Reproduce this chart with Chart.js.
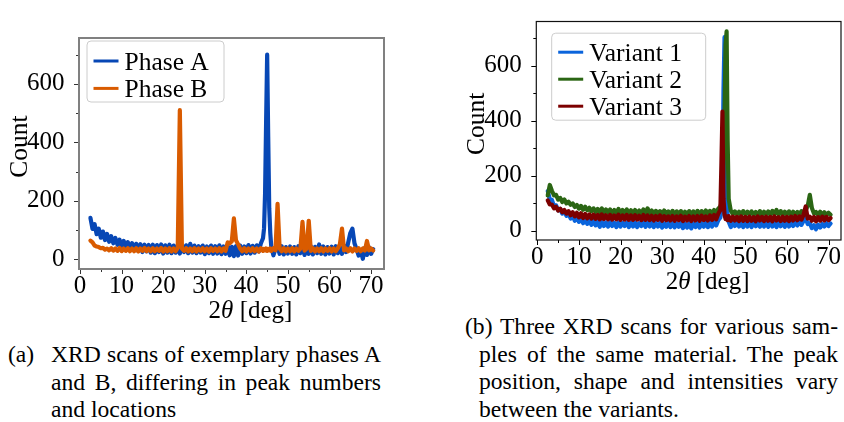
<!DOCTYPE html>
<html>
<head>
<meta charset="utf-8">
<script src="https://cdn.jsdelivr.net/npm/chart.js@4.4.1/dist/chart.umd.min.js"></script>
<style>
  body { margin: 0; background: #fff; width: 844px; height: 422px; overflow: hidden; position: relative;
         font-family: 'Liberation Serif', 'Times New Roman', serif; color: #000; }
  #chartA { position: absolute; left: 0; top: 0; }
  #chartB { position: absolute; left: 424px; top: 0; }
  .cap { position: absolute; font-size: 23.6px; line-height: 27.5px; white-space: nowrap; }
  .cap div { white-space: nowrap; }
  .cap .full { text-align: justify; text-align-last: justify; }
</style>
</head>
<body>
<canvas id="chartA" width="420" height="330"></canvas>
<canvas id="chartB" width="420" height="300"></canvas>

<div class="cap" style="left:8px; top:341px;">(a)</div>
<div class="cap" style="left:51px; top:341px; width:330px;">
  <div class="full">XRD scans of exemplary phases A</div>
  <div class="full">and B, differing in peak numbers</div>
  <div>and locations</div>
</div>

<div class="cap" style="left:465px; top:313px; width:373px;">
  <div class="full">(b) Three XRD scans for various sam-</div>
</div>
<div class="cap" style="left:479px; top:340.5px; width:359px;">
  <div class="full">ples of the same material. The peak</div>
  <div class="full">position, shape and intensities vary</div>
  <div>between the variants.</div>
</div>

<script>
// 2theta sampling (deg), shared by every scan
const twoTheta = [2.5,3,3.5,4,4.5,5,5.5,6,6.5,7,
  7.5,8,8.5,9,9.5,10,10.5,11,11.5,12,
  12.5,13,13.5,14,14.5,15,15.5,16,16.5,17,
  17.5,18,18.5,19,19.5,20,20.5,21,21.5,22,
  22.5,23,23.5,24,24.5,25,25.5,26,26.5,27,
  27.5,28,28.5,29,29.5,30,30.5,31,31.5,32,
  32.5,33,33.5,34,34.5,35,35.5,36,36.5,37,
  37.5,38,38.5,39,39.5,40,40.5,41,41.5,42,
  42.5,43,43.5,44,44.25,44.5,44.75,45,45.25,45.5,
  45.75,46,46.5,47,47.5,48,48.5,49,49.5,50,
  50.5,51,51.5,52,52.5,53,53.5,54,54.5,55,
  55.5,56,56.5,57,57.5,58,58.5,59,59.5,60,
  60.5,61,61.5,62,62.5,63,63.5,64,64.5,65,
  65.5,66,66.5,67,67.5,68,68.5,69,69.5,70,
  70.5];

// (a) phases
const phaseA = [142,104,120,86,105,74,95,66,87,60,
  79,55,73,50,67,45,63,41,59,39,
  55,33,53,29,52,25,50,27,49,23,
  50,21,49,25,51,20,48,23,50,21,
  47,23,49,20,45,25,48,21,53,23,
  47,21,45,23,47,18,44,21,47,19,
  45,20,48,18,44,19,47,14,43,11,
  45,13,47,19,44,21,49,20,46,23,
  48,27,55,72,105,225,470,700,420,175,
  90,42,14,35,43,19,45,17,42,20,
  44,19,42,17,45,21,43,15,41,19,
  45,17,43,21,51,19,44,17,42,20,
  43,17,45,21,41,19,47,25,58,90,
  105,55,35,13,30,2,39,15,41,19,
  35];
const phaseB = [64,58,47,44,42,38,39,33,37,31,
  38,30,37,29,39,28,37,29,38,28,
  37,28,38,27,37,29,39,28,37,28,
  38,28,37,29,39,27,37,28,38,27,
  37,28,39,510,37,29,38,27,37,28,
  38,27,37,29,38,28,37,27,38,29,
  37,28,38,27,37,29,58,55,62,140,
  65,52,37,28,38,27,37,29,38,28,
  37,27,38,29,36,31,37,29,36,31,
  37,29,38,31,190,37,28,38,27,37,
  28,38,27,37,29,37,128,30,37,132,
  29,38,27,37,28,38,27,37,29,38,
  27,37,28,38,52,105,31,37,28,38,
  27,37,29,38,28,37,30,63,31,37,
  30];

// (b) variants
const variant1 = [144,114,112,89,92,74,79,62,69,54,
  62,44,56,36,49,32,43,27,41,25,
  37,21,35,19,33,14,31,17,30,15,
  31,17,29,13,30,15,28,17,29,13,
  28,15,30,13,27,17,29,14,28,15,
  29,13,27,15,28,11,26,14,28,13,
  27,12,26,14,28,9,25,11,27,8,
  26,13,28,11,27,14,29,13,31,15,
  33,19,38,48,78,185,510,703,375,115,
  55,32,13,31,17,29,15,28,13,30,
  15,28,13,29,16,27,14,30,15,28,
  14,29,15,27,13,30,16,28,14,29,
  15,28,17,30,19,31,21,36,46,24,
  27,9,20,5,22,11,24,15,27,17,
  26];
const variant2 = [128,166,145,128,130,113,119,104,113,99,
  105,94,99,86,93,80,90,76,87,74,
  83,70,81,68,79,66,81,65,77,66,
  77,63,75,65,79,61,75,63,77,62,
  74,61,75,63,73,60,77,62,81,61,
  73,59,72,61,71,58,73,60,70,59,
  72,58,70,60,71,57,69,59,71,57,
  70,59,72,57,71,60,73,58,72,61,
  75,62,80,88,100,125,215,415,675,724,
  325,115,73,60,70,58,69,57,71,59,
  69,57,70,58,68,56,71,57,69,59,
  70,57,72,59,75,58,71,57,69,58,
  70,57,69,58,68,59,71,62,74,90,
  130,82,62,68,57,69,55,67,57,65,
  58];
const variant3 = [110,95,95,81,87,73,80,67,75,62,
  71,56,67,52,65,48,63,46,61,45,
  59,44,58,43,57,41,59,42,56,41,
  57,40,55,41,58,39,55,40,57,39,
  55,39,56,40,54,38,57,39,55,38,
  54,37,53,39,55,36,53,38,52,37,
  53,36,52,38,54,35,51,37,53,35,
  52,37,53,36,54,38,52,37,55,39,
  57,41,61,75,245,433,115,58,42,52,
  38,53,36,51,37,50,35,52,36,50,
  35,51,36,49,34,52,37,50,35,51,
  36,50,34,52,37,49,35,51,36,50,
  35,51,37,53,38,52,40,58,88,44,
  51,36,50,34,49,36,51,37,50,38,
  46];

const xTicks = [0, 10, 20, 30, 40, 50, 60, 70];
const xMinor = [5, 15, 25, 35, 45, 55, 65];
const yTicks = [0, 200, 400, 600];
const yMinor = [100, 300, 500, 700];

const serif = "'Liberation Serif', 'Times New Roman', serif";

function pts(ys) {
  return twoTheta.map((t, i) => ({ x: t, y: ys[i] }));
}

// spines, tick marks, legend box and axis titles, matplotlib style
const decor = {
  id: 'decor',
  afterDatasetsDraw(chart, args, o) {
    const ctx = chart.ctx;
    const a = chart.chartArea;
    const xs = chart.scales.x, ys = chart.scales.y;
    ctx.save();

    ctx.strokeStyle = o.tickColor;
    ctx.lineWidth = 1;
    ctx.beginPath();
    xTicks.forEach(v => { const p = Math.round(xs.getPixelForValue(v)) + 0.5; ctx.moveTo(p, a.bottom); ctx.lineTo(p, a.bottom + 5); });
    xMinor.forEach(v => { const p = Math.round(xs.getPixelForValue(v)) + 0.5; ctx.moveTo(p, a.bottom); ctx.lineTo(p, a.bottom + 3); });
    yTicks.forEach(v => { const p = Math.round(ys.getPixelForValue(v)) + 0.5; ctx.moveTo(a.left, p); ctx.lineTo(a.left - 5, p); });
    yMinor.forEach(v => { const p = Math.round(ys.getPixelForValue(v)) + 0.5; ctx.moveTo(a.left, p); ctx.lineTo(a.left - 3, p); });
    ctx.stroke();

    ctx.strokeStyle = o.spineColor;
    ctx.lineWidth = o.spineWidth;
    ctx.strokeRect(a.left, a.top, a.right - a.left, a.bottom - a.top);

    // legend
    const lg = o.legend;
    const bx = a.left + lg.dx, by = a.top + lg.dy;
    ctx.beginPath();
    ctx.roundRect(bx, by, lg.w, lg.h, 4);
    ctx.fillStyle = 'rgba(255,255,255,0.8)';
    ctx.fill();
    ctx.strokeStyle = '#cccccc';
    ctx.lineWidth = 1;
    ctx.stroke();
    ctx.font = '25.5px ' + serif;
    ctx.textBaseline = 'alphabetic';
    ctx.textAlign = 'left';
    chart.data.datasets.forEach((ds, i) => {
      const cy = by + lg.first + i * lg.step;
      ctx.strokeStyle = ds.borderColor;
      ctx.lineWidth = 3;
      ctx.beginPath();
      ctx.moveTo(bx + 6.5, cy);
      ctx.lineTo(bx + 31.5, cy);
      ctx.stroke();
      ctx.fillStyle = '#000';
      ctx.fillText(ds.label, bx + 37.5, cy + 8.5);
    });

    // x title: 2θ [deg] with italic theta
    const parts = [['2', ''], ['\u03b8', 'italic '], [' [deg]', '']];
    let total = 0;
    parts.forEach(p => { ctx.font = p[1] + '25px ' + serif; total += ctx.measureText(p[0]).width; });
    let tx = (a.left + a.right) / 2 + o.xTitleDx - total / 2;
    const ty = a.bottom + o.xTitleDy;
    parts.forEach(p => {
      ctx.font = p[1] + '25px ' + serif;
      ctx.fillText(p[0], tx, ty);
      tx += ctx.measureText(p[0]).width;
    });

    // y title
    ctx.translate(a.left + o.yTitleDx, (a.top + a.bottom) / 2 + o.yTitleDy);
    ctx.rotate(-Math.PI / 2);
    ctx.font = '25.5px ' + serif;
    ctx.textAlign = 'center';
    ctx.fillText('Count', 0, 0);
    ctx.restore();
  }
};

function makeChart(id, datasets, box) {
  return new Chart(document.getElementById(id), {
    type: 'line',
    data: { datasets: datasets },
    plugins: [decor],
    options: {
      responsive: false,
      animation: false,
      events: [],
      layout: { padding: { left: 0, top: box.top, right: box.right, bottom: 0 } },
      elements: { point: { radius: 0 }, line: { tension: 0, borderWidth: 4.2, borderJoinStyle: 'round', borderCapStyle: 'round' } },
      scales: {
        x: {
          type: 'linear', min: box.xMin, max: box.xMax,
          afterBuildTicks: s => { s.ticks = xTicks.map(v => ({ value: v })); },
          afterFit: s => { s.height = box.xAxisH; },
          grid: { display: false }, border: { display: false },
          ticks: { autoSkip: false, maxRotation: 0, padding: box.xPad, color: '#000', font: { family: serif, size: 25 } }
        },
        y: {
          type: 'linear', min: box.yMin, max: box.yMax,
          afterBuildTicks: s => { s.ticks = yTicks.map(v => ({ value: v })); },
          afterFit: s => { s.width = box.yAxisW; },
          grid: { display: false }, border: { display: false },
          ticks: { padding: 6.5, color: '#000', font: { family: serif, size: 25 } }
        }
      },
      plugins: {
        legend: { display: false },
        tooltip: { enabled: false },
        decor: box.decor
      }
    }
  });
}

makeChart('chartA', [
  { label: 'Phase A', data: pts(phaseA), borderColor: '#0747b5', order: 1 },
  { label: 'Phase B', data: pts(phaseB), borderColor: '#d95b00', order: 0 }
], {
  top: 38, right: 36, xAxisH: 61, yAxisW: 79, xPad: -6,
  xMin: -0.25, xMax: 73.1, yMin: -33, yMax: 757,
  decor: {
    spineColor: '#808080', spineWidth: 2, tickColor: '#333333',
    legend: { dx: 8, dy: 3, w: 137, h: 61, first: 20, step: 27.4 },
    xTitleDx: 19, xTitleDy: 49, yTitleDx: -52.3, yTitleDy: -7
  }
});

makeChart('chartB', [
  { label: 'Variant 1', data: pts(variant1), borderColor: '#0a64dc', order: 2 },
  { label: 'Variant 2', data: pts(variant2), borderColor: '#2b6614', order: 1 },
  { label: 'Variant 3', data: pts(variant3), borderColor: '#7c0000', order: 0 }
], {
  top: 8.3, right: 3, xAxisH: 60, yAxisW: 112.3, xPad: -6,
  xMin: -0.25, xMax: 73.0, yMin: -34, yMax: 760,
  decor: {
    spineColor: '#111111', spineWidth: 1.2, tickColor: '#000000',
    legend: { dx: 15.4, dy: 11.7, w: 154, h: 87, first: 19, step: 27 },
    xTitleDx: 19, xTitleDy: 49, yTitleDx: -52.3, yTitleDy: -7
  }
});
</script>
</body>
</html>
